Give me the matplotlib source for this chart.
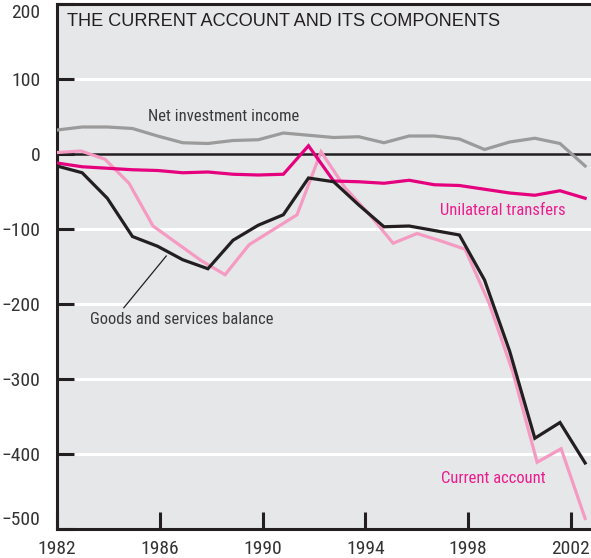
import numpy as np
import matplotlib
matplotlib.use("Agg")
import matplotlib.pyplot as plt
from matplotlib import font_manager
from matplotlib.font_manager import FontProperties

# ---------------- data ----------------
# Current account, 1980-2002 (billions of dollars)
current_account = [2, 4, -7, -39, -96, -119, -142, -161, -121, -101, -81, 3,
                   -45, -80, -119, -106, -116, -127, -199, -292, -411, -393, -486]
# Goods and services balance, 1981-2002
goods_services = [-16, -25, -59, -110, -123, -141, -153, -115, -95, -81, -32,
                  -37, -68, -97, -96, -102, -108, -168, -263, -379, -358, -412]
# Unilateral transfers, 1981-2002
unilateral = [-12, -17, -19, -21, -22, -25, -24, -27, -28, -27, 11,
              -36, -37, -39, -35, -41, -42, -47, -52, -55, -49, -59]
# Net investment income, 1981-2002
net_investment = [32, 36, 36, 34, 24, 15, 14, 18, 19, 28, 25,
                  22, 23, 15, 24, 24, 20, 6, 16, 21, 14, -16]

x_ticks = [1982, 1986, 1990, 1994, 1998, 2002]
x_tick_labels = ["1982", "1986", "1990", "1994", "1998", "2002"]
y_ticks = [200, 100, 0, -100, -200, -300, -400, -500]
y_tick_labels = ["200", "100", "0", "\u2212100", "\u2212200", "\u2212300", "\u2212400", "\u2212500"]

title = "THE CURRENT ACCOUNT AND ITS COMPONENTS"

# span (in axis year units) covered by every series in the original drawing
SPAN_START, SPAN_END = 1982.0, 2002.55

# ---------------- fonts ----------------
cond_path = None
prefs = ["RobotoCondensed-Regular", "LiberationSansNarrow-Regular",
         "DejaVuSansCondensed.ttf"]
files = [f.fname for f in font_manager.fontManager.ttflist]
for p in prefs:
    hits = [f for f in files if p.lower() in f.lower()]
    if hits:
        cond_path = sorted(hits, key=len)[0]
        break


def cfont(size):
    if cond_path:
        return FontProperties(fname=cond_path, size=size)
    return FontProperties(family=["Liberation Sans", "DejaVu Sans"], size=size * 0.88)


BG = "#e6e7e8"
BLACK = "#231f20"
GRAY = "#9b9b9b"
MAGENTA = "#e5007e"
PINK = "#f59bc3"
MAG_TEXT = "#ec1c8e"

W, H = 591, 558
fig = plt.figure(figsize=(W / 100, H / 100), dpi=100)
left_px, right_px, top_px, bottom_px = 57, 591, 4, 529
ax = fig.add_axes([left_px / W, 1 - bottom_px / H,
                   (right_px - left_px) / W, (bottom_px - top_px) / H])
ax.set_facecolor(BG)

ax.set_xlim(1982, 1982 + (right_px - left_px) / 25.7)
ax.set_ylim(-500, 200)

for v in [100, -100, -200, -300, -400]:
    ax.axhline(v, color="white", lw=2.2, zorder=1)
ax.axhline(0, color=BLACK, lw=1.8, zorder=2)


def xs(series):
    return np.linspace(SPAN_START, SPAN_END, len(series))


ax.plot(xs(net_investment), net_investment, color=GRAY, lw=2.3, zorder=3,
        solid_joinstyle="miter")
ax.plot(xs(current_account), current_account, color=PINK, lw=2.3, zorder=3,
        solid_joinstyle="miter")
ax.plot(xs(unilateral), unilateral, color=MAGENTA, lw=2.3, zorder=4,
        solid_joinstyle="miter")
ax.plot(xs(goods_services), goods_services, color=BLACK, lw=2.3, zorder=5,
        solid_joinstyle="miter")

# spines
for s in ["left", "bottom", "top"]:
    ax.spines[s].set_color(BLACK)
    ax.spines[s].set_linewidth(2.2)
ax.spines["right"].set_visible(False)

ax.set_xticks(x_ticks)
ax.set_xticklabels(x_tick_labels, color="#333333")
ax.set_yticks(y_ticks)
ax.set_yticklabels(y_tick_labels, color="#333333")
for lab in ax.get_xticklabels() + ax.get_yticklabels():
    lab.set_fontproperties(cfont(14))
ylabs = ax.get_yticklabels()
ylabs[0].set_va("top")
ylabs[-1].set_va("bottom")
ax.tick_params(axis="both", direction="in", length=12, width=2.2, color=BLACK)
ax.tick_params(axis="y", pad=12)
ax.tick_params(axis="x", pad=8)

# title
ax.text(0.018, 0.982, title, transform=ax.transAxes, ha="left", va="top",
        family=["Liberation Sans", "DejaVu Sans"], fontsize=13.1, color=BLACK)

# labels
LBL = 12
ax.text(1985.55, 50, "Net investment income", fontproperties=cfont(LBL),
        color="#3a3a3a", ha="left", va="center")
ax.text(1996.9, -75, "Unilateral transfers", fontproperties=cfont(LBL),
        color=MAG_TEXT, ha="left", va="center")
ax.text(1996.95, -433, "Current account", fontproperties=cfont(LBL),
        color=MAG_TEXT, ha="left", va="center")
ax.text(1983.3, -221, "Goods and services balance", fontproperties=cfont(LBL),
        color="#3a3a3a", ha="left", va="center")
ax.plot([1986.25, 1984.6], [-136, -205], color=BLACK, lw=0.9, zorder=6)

fig.savefig("out.png", dpi=100)
